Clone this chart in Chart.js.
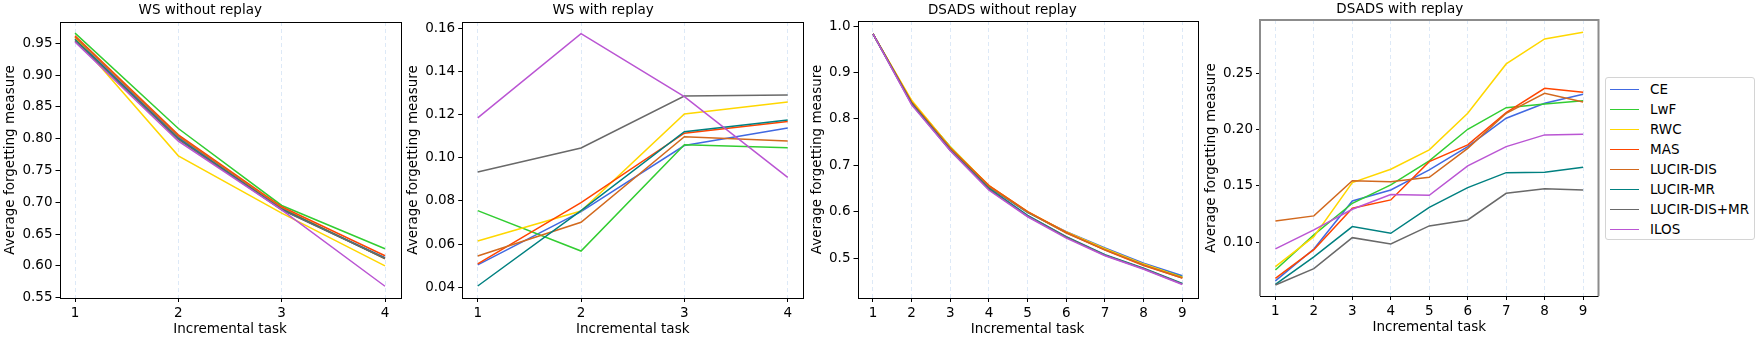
<!DOCTYPE html>
<html>
<head>
<meta charset="utf-8">
<script src="https://cdn.jsdelivr.net/npm/chart.js@4.4.1/dist/chart.umd.min.js"></script>
<style>
  html, body { margin: 0; padding: 0; background: #fff; }
  body { width: 1761px; height: 344px; position: relative; overflow: hidden; font-family: "DejaVu Sans", sans-serif; }
  canvas { position: absolute; top: 0; }
  #legend { position: absolute; left: 1605px; top: 77px; width: 150px; height: 163px; box-sizing: border-box;
            border: 1px solid #d4d4d4; border-radius: 3px; background: rgba(255,255,255,0.8); }
  .lg-line { position: absolute; left: 4px; width: 29px; height: 0; }
  .lg-text { position: absolute; left: 44px; height: 20px; line-height: 20px; font-size: 13.5px; color: #000; white-space: nowrap; }
</style>
</head>
<body>
<div id="legend"></div>
<script>
// ---------- data ----------
const seriesNames = ['CE', 'LwF', 'RWC', 'MAS', 'LUCIR-DIS', 'LUCIR-MR', 'LUCIR-DIS+MR', 'ILOS'];
const seriesColors = ['#4169e1', '#32cd32', '#ffd700', '#ff4500', '#d2691e', '#008080', '#696969', '#ba55d3'];

const tasksWS = [1, 2, 3, 4];
const tasksDSADS = [1, 2, 3, 4, 5, 6, 7, 8, 9];

// rows follow seriesNames order
const wsNoReplay = [
  [0.957, 0.802, 0.689, 0.613],
  [0.966, 0.816, 0.695, 0.627],
  [0.959, 0.773, 0.683, 0.600],
  [0.962, 0.806, 0.693, 0.616],
  [0.960, 0.804, 0.691, 0.611],
  [0.956, 0.800, 0.689, 0.612],
  [0.954, 0.799, 0.688, 0.612],
  [0.952, 0.796, 0.688, 0.568]
];
const wsReplay = [
  [0.0504, 0.0750, 0.1056, 0.1137],
  [0.0755, 0.0568, 0.1060, 0.1046],
  [0.0614, 0.0753, 0.1202, 0.1258],
  [0.0508, 0.0792, 0.1113, 0.1167],
  [0.0545, 0.0701, 0.1097, 0.1077],
  [0.0406, 0.0755, 0.1120, 0.1174],
  [0.0934, 0.1045, 0.1285, 0.1290],
  [0.1184, 0.1574, 0.1282, 0.0909]
];
const dsadsNoReplay = [
  [0.983, 0.835, 0.737, 0.653, 0.598, 0.557, 0.522, 0.489, 0.462],
  [0.983, 0.837, 0.740, 0.655, 0.599, 0.555, 0.519, 0.486, 0.459],
  [0.983, 0.840, 0.739, 0.656, 0.600, 0.556, 0.520, 0.487, 0.458],
  [0.983, 0.836, 0.737, 0.656, 0.600, 0.555, 0.517, 0.484, 0.457],
  [0.983, 0.835, 0.736, 0.654, 0.599, 0.554, 0.518, 0.485, 0.457],
  [0.983, 0.833, 0.733, 0.650, 0.592, 0.546, 0.507, 0.478, 0.445],
  [0.983, 0.832, 0.732, 0.648, 0.590, 0.545, 0.506, 0.477, 0.444],
  [0.983, 0.830, 0.731, 0.646, 0.589, 0.543, 0.505, 0.476, 0.443]
];
const dsadsReplay = [
  [0.0657, 0.0940, 0.1367, 0.1464, 0.1642, 0.1849, 0.2101, 0.2234, 0.2314],
  [0.0754, 0.1065, 0.1346, 0.1509, 0.1722, 0.2003, 0.2195, 0.2228, 0.2257],
  [0.0784, 0.1050, 0.1530, 0.1648, 0.1820, 0.2145, 0.2583, 0.2805, 0.2864],
  [0.0680, 0.0934, 0.1302, 0.1376, 0.1716, 0.1864, 0.2151, 0.2367, 0.2331],
  [0.1189, 0.1234, 0.1547, 0.1538, 0.1577, 0.1834, 0.2145, 0.2322, 0.2246],
  [0.0627, 0.0871, 0.1139, 0.1080, 0.1310, 0.1485, 0.1618, 0.1621, 0.1666],
  [0.0621, 0.0766, 0.1041, 0.0985, 0.1145, 0.1198, 0.1435, 0.1476, 0.1464],
  [0.0941, 0.1110, 0.1293, 0.1423, 0.1417, 0.1678, 0.1849, 0.1953, 0.1959]
];

const yTicksWsNoReplay = [0.55, 0.60, 0.65, 0.70, 0.75, 0.80, 0.85, 0.90, 0.95];
const yTicksWsReplay = [0.04, 0.06, 0.08, 0.10, 0.12, 0.14, 0.16];
const yTicksDsadsNoReplay = [0.5, 0.6, 0.7, 0.8, 0.9, 1.0];
const yTicksDsadsReplay = [0.10, 0.15, 0.20, 0.25];

const panelTitles = ['WS without replay', 'WS with replay', 'DSADS without replay', 'DSADS with replay'];
const xLabel = 'Incremental task';
const yLabel = 'Average forgetting measure';

// ---------- layout / styling ----------
const FONT = '"DejaVu Sans", sans-serif';
const FS = 13.5;
const H = 344;

const panels = [
  { title: panelTitles[0], x: tasksWS, rows: wsNoReplay, yTicks: yTicksWsNoReplay, dec: 2,
    xMin: 0.85, xMax: 4.15, yMin: 0.5495, yMax: 0.9835,
    cLeft: 0, pLeft: 59.5, pRight: 400.5, pTop: 22, pBottom: 298, padBottom: 0,
    titlePadTop: 1.9, yTitlePad: 1.9, frame: 'black' },
  { title: panelTitles[1], x: tasksWS, rows: wsReplay, yTicks: yTicksWsReplay, dec: 2,
    xMin: 0.85, xMax: 4.15, yMin: 0.03505, yMax: 0.16278,
    cLeft: 403, pLeft: 462.2, pRight: 803.2, pTop: 22, pBottom: 298, padBottom: 0,
    titlePadTop: 1.9, yTitlePad: 2.2, frame: 'black' },
  { title: panelTitles[2], x: tasksDSADS, rows: dsadsNoReplay, yTicks: yTicksDsadsNoReplay, dec: 1,
    xMin: 0.6, xMax: 9.4, yMin: 0.4139, yMax: 1.0108,
    cLeft: 807, pLeft: 857.5, pRight: 1197.8, pTop: 21, pBottom: 298, padBottom: 0,
    titlePadTop: 1.9, yTitlePad: 1.9, frame: 'black' },
  { title: panelTitles[3], x: tasksDSADS, rows: dsadsReplay, yTicks: yTicksDsadsReplay, dec: 2,
    xMin: 0.6, xMax: 9.4, yMin: 0.0523, yMax: 0.2973,
    cLeft: 1201, pLeft: 1260, pRight: 1598.5, pTop: 20, pBottom: 296, padBottom: 2,
    titlePadTop: 1.2, yTitlePad: 2.6, frame: 'gray' }
];

const framePlugin = {
  id: 'frame',
  afterDatasetsDraw(chart, args, opts) {
    const { ctx, chartArea: a } = chart;
    ctx.save();
    if (opts.style === 'gray') {
      ctx.strokeStyle = '#8c8c8c';
      ctx.lineWidth = 2;
      ctx.beginPath();
      ctx.moveTo(a.left, a.bottom);
      ctx.lineTo(a.left, a.top);
      ctx.lineTo(a.right, a.top);
      ctx.lineTo(a.right, a.bottom);
      ctx.stroke();
      ctx.strokeStyle = '#000';
      ctx.lineWidth = 1;
      ctx.beginPath();
      ctx.moveTo(a.left, Math.round(a.bottom) + 0.5);
      ctx.lineTo(a.right, Math.round(a.bottom) + 0.5);
      ctx.stroke();
    } else {
      ctx.strokeStyle = '#000';
      ctx.lineWidth = 1;
      const l = Math.round(a.left) + 0.5, r = Math.round(a.right) + 0.5;
      const t = Math.round(a.top) + 0.5, b = Math.round(a.bottom) + 0.5;
      ctx.strokeRect(l, t, r - l, b - t);
    }
    ctx.restore();
  }
};

panels.forEach((p) => {
  const width = Math.ceil(p.pRight + 3 - p.cLeft);
  const cv = document.createElement('canvas');
  cv.width = width; cv.height = H;
  cv.style.left = p.cLeft + 'px';
  cv.style.width = width + 'px'; cv.style.height = H + 'px';
  document.body.appendChild(cv);

  const n = seriesNames.length;
  const datasets = seriesNames.map((name, i) => ({
    label: name,
    data: p.x.map((xv, j) => ({ x: xv, y: p.rows[i][j] })),
    borderColor: seriesColors[i],
    backgroundColor: seriesColors[i],
    borderWidth: 1.5,
    pointRadius: 0,
    tension: 0,
    fill: false,
    order: n - i
  }));

  const lh = FS * 1.2;
  new Chart(cv, {
    type: 'line',
    data: { datasets },
    plugins: [framePlugin],
    options: {
      responsive: false,
      animation: false,
      devicePixelRatio: 1,
      layout: { padding: { left: 0, top: 0, bottom: p.padBottom, right: p.cLeft + width - p.pRight } },
      plugins: {
        legend: { display: false },
        tooltip: { enabled: false },
        frame: { style: p.frame },
        title: {
          display: true, text: p.title, color: '#000',
          font: { family: FONT, size: FS, weight: 'normal', lineHeight: 1.2 },
          padding: { top: p.titlePadTop, bottom: p.pTop - p.titlePadTop - lh }
        }
      },
      scales: {
        x: {
          type: 'linear', min: p.xMin, max: p.xMax,
          afterBuildTicks: (s) => { s.ticks = p.x.map(v => ({ value: v })); },
          afterFit: (s) => { s.height = H - p.padBottom - p.pBottom; },
          ticks: { color: '#000', font: { family: FONT, size: FS }, padding: 3, maxRotation: 0, autoSkip: false,
                   callback: (v) => String(v) },
          grid: { display: true, drawOnChartArea: true, color: '#dde9f7', lineWidth: 1,
                  drawTicks: true, tickLength: 4, tickColor: '#000', tickWidth: 1 },
          border: { display: false, dash: [4, 3] },
          title: { display: true, text: xLabel, color: '#000', font: { family: FONT, size: FS, lineHeight: 1.2 },
                   padding: { top: 0, bottom: 6.6 } }
        },
        y: {
          type: 'linear', min: p.yMin, max: p.yMax,
          afterBuildTicks: (s) => { s.ticks = p.yTicks.map(v => ({ value: v })); },
          afterFit: (s) => { s.width = p.pLeft - p.cLeft; },
          ticks: { color: '#000', font: { family: FONT, size: FS }, padding: 3, autoSkip: false,
                   callback: (v) => Number(v).toFixed(p.dec) },
          grid: { display: true, drawOnChartArea: false, drawTicks: true, tickLength: 4, tickColor: '#000', tickWidth: 1 },
          border: { display: false },
          title: { display: true, text: yLabel, color: '#000', font: { family: FONT, size: FS, lineHeight: 1.2 },
                   padding: { top: p.yTitlePad, bottom: 0 } }
        }
      }
    }
  });
});

// ---------- legend ----------
const legend = document.getElementById('legend');
seriesNames.forEach((name, i) => {
  const cy = 11.3 + 20 * i;
  const line = document.createElement('div');
  line.className = 'lg-line';
  line.style.top = (cy - 0.75) + 'px';
  line.style.borderTop = '1.5px solid ' + seriesColors[i];
  legend.appendChild(line);
  const t = document.createElement('div');
  t.className = 'lg-text';
  t.style.top = (cy - 10) + 'px';
  t.textContent = name;
  legend.appendChild(t);
});
</script>
</body>
</html>
